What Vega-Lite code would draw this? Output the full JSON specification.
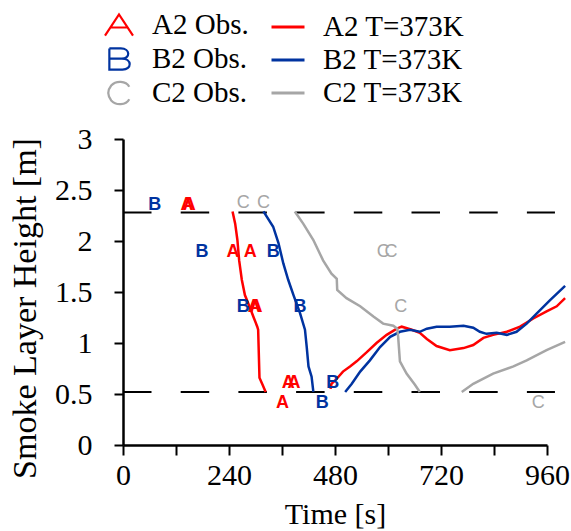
{
  "$schema": "https://vega.github.io/schema/vega-lite/v6.json",
  "width": 424,
  "height": 306,
  "autosize": {"type": "none"},
  "padding": {"left": 123, "top": 139, "right": 24, "bottom": 86},
  "background": "white",
  "config": {
    "view": {"stroke": null},
    "axis": {
      "grid": false,
      "domainColor": "black",
      "domainWidth": 2.5,
      "tickColor": "black",
      "tickWidth": 2,
      "labelColor": "black",
      "labelFont": "Liberation Serif",
      "labelFontSize": 30,
      "titleFont": "Liberation Serif",
      "titleFontWeight": "normal",
      "titleColor": "black",
      "labelFlush": false,
      "labelOverlap": false
    }
  },
  "datasets": {
    "obs": [
      {"series": "A2", "t": 145, "h": 2.35},
      {"series": "A2", "t": 150, "h": 2.35},
      {"series": "A2", "t": 249, "h": 1.89},
      {"series": "A2", "t": 288, "h": 1.89},
      {"series": "A2", "t": 297, "h": 1.35},
      {"series": "A2", "t": 301, "h": 1.35},
      {"series": "A2", "t": 374, "h": 0.61},
      {"series": "A2", "t": 387, "h": 0.61},
      {"series": "A2", "t": 361, "h": 0.41},
      {"series": "B2", "t": 72, "h": 2.35},
      {"series": "B2", "t": 179, "h": 1.89},
      {"series": "B2", "t": 340, "h": 1.89},
      {"series": "B2", "t": 272, "h": 1.35},
      {"series": "B2", "t": 401, "h": 1.35},
      {"series": "B2", "t": 475, "h": 0.61},
      {"series": "B2", "t": 451, "h": 0.41},
      {"series": "C2", "t": 272, "h": 2.37},
      {"series": "C2", "t": 318, "h": 2.37},
      {"series": "C2", "t": 589, "h": 1.89},
      {"series": "C2", "t": 607, "h": 1.89},
      {"series": "C2", "t": 629, "h": 1.35},
      {"series": "C2", "t": 940, "h": 0.41}
    ],
    "sim": [
      {"series": "A2", "seg": 1, "t": 248, "h": 2.29},
      {"series": "A2", "seg": 1, "t": 254, "h": 2.17},
      {"series": "A2", "seg": 1, "t": 259, "h": 2.01},
      {"series": "A2", "seg": 1, "t": 263, "h": 1.81},
      {"series": "A2", "seg": 1, "t": 269, "h": 1.62},
      {"series": "A2", "seg": 1, "t": 276, "h": 1.47},
      {"series": "A2", "seg": 1, "t": 288, "h": 1.34},
      {"series": "A2", "seg": 1, "t": 295, "h": 1.26},
      {"series": "A2", "seg": 1, "t": 304, "h": 1.16},
      {"series": "A2", "seg": 1, "t": 306, "h": 1.13},
      {"series": "A2", "seg": 1, "t": 309, "h": 0.66},
      {"series": "A2", "seg": 1, "t": 316, "h": 0.59},
      {"series": "A2", "seg": 1, "t": 323, "h": 0.52},
      {"series": "A2", "seg": 2, "t": 470, "h": 0.55},
      {"series": "A2", "seg": 2, "t": 472, "h": 0.60},
      {"series": "A2", "seg": 2, "t": 484, "h": 0.65},
      {"series": "A2", "seg": 2, "t": 498, "h": 0.72},
      {"series": "A2", "seg": 2, "t": 514, "h": 0.77},
      {"series": "A2", "seg": 2, "t": 529, "h": 0.82},
      {"series": "A2", "seg": 2, "t": 552, "h": 0.91},
      {"series": "A2", "seg": 2, "t": 574, "h": 1.00},
      {"series": "A2", "seg": 2, "t": 597, "h": 1.08},
      {"series": "A2", "seg": 2, "t": 620, "h": 1.14},
      {"series": "A2", "seg": 2, "t": 631, "h": 1.16},
      {"series": "A2", "seg": 2, "t": 654, "h": 1.13},
      {"series": "A2", "seg": 2, "t": 672, "h": 1.10},
      {"series": "A2", "seg": 2, "t": 688, "h": 1.04},
      {"series": "A2", "seg": 2, "t": 710, "h": 0.97},
      {"series": "A2", "seg": 2, "t": 740, "h": 0.93},
      {"series": "A2", "seg": 2, "t": 771, "h": 0.95},
      {"series": "A2", "seg": 2, "t": 793, "h": 0.98},
      {"series": "A2", "seg": 2, "t": 816, "h": 1.05},
      {"series": "A2", "seg": 2, "t": 838, "h": 1.08},
      {"series": "A2", "seg": 2, "t": 869, "h": 1.11},
      {"series": "A2", "seg": 2, "t": 899, "h": 1.16},
      {"series": "A2", "seg": 2, "t": 929, "h": 1.24},
      {"series": "A2", "seg": 2, "t": 959, "h": 1.31},
      {"series": "A2", "seg": 2, "t": 982, "h": 1.36},
      {"series": "A2", "seg": 2, "t": 1001, "h": 1.44},
      {"series": "B2", "seg": 1, "t": 318, "h": 2.29},
      {"series": "B2", "seg": 1, "t": 340, "h": 2.14},
      {"series": "B2", "seg": 1, "t": 352, "h": 1.98},
      {"series": "B2", "seg": 1, "t": 363, "h": 1.78},
      {"series": "B2", "seg": 1, "t": 374, "h": 1.62},
      {"series": "B2", "seg": 1, "t": 386, "h": 1.47},
      {"series": "B2", "seg": 1, "t": 401, "h": 1.29},
      {"series": "B2", "seg": 1, "t": 412, "h": 1.13},
      {"series": "B2", "seg": 1, "t": 416, "h": 0.96},
      {"series": "B2", "seg": 1, "t": 420, "h": 0.77},
      {"series": "B2", "seg": 1, "t": 427, "h": 0.67},
      {"series": "B2", "seg": 1, "t": 431, "h": 0.52},
      {"series": "B2", "seg": 2, "t": 503, "h": 0.52},
      {"series": "B2", "seg": 2, "t": 518, "h": 0.60},
      {"series": "B2", "seg": 2, "t": 537, "h": 0.72},
      {"series": "B2", "seg": 2, "t": 559, "h": 0.83},
      {"series": "B2", "seg": 2, "t": 582, "h": 0.96},
      {"series": "B2", "seg": 2, "t": 605, "h": 1.06},
      {"series": "B2", "seg": 2, "t": 627, "h": 1.11},
      {"series": "B2", "seg": 2, "t": 650, "h": 1.13},
      {"series": "B2", "seg": 2, "t": 672, "h": 1.11},
      {"series": "B2", "seg": 2, "t": 688, "h": 1.14},
      {"series": "B2", "seg": 2, "t": 710, "h": 1.16},
      {"series": "B2", "seg": 2, "t": 740, "h": 1.16},
      {"series": "B2", "seg": 2, "t": 771, "h": 1.17},
      {"series": "B2", "seg": 2, "t": 793, "h": 1.15},
      {"series": "B2", "seg": 2, "t": 808, "h": 1.11},
      {"series": "B2", "seg": 2, "t": 823, "h": 1.09},
      {"series": "B2", "seg": 2, "t": 846, "h": 1.10},
      {"series": "B2", "seg": 2, "t": 869, "h": 1.08},
      {"series": "B2", "seg": 2, "t": 891, "h": 1.11},
      {"series": "B2", "seg": 2, "t": 914, "h": 1.19},
      {"series": "B2", "seg": 2, "t": 937, "h": 1.29},
      {"series": "B2", "seg": 2, "t": 967, "h": 1.42},
      {"series": "B2", "seg": 2, "t": 1001, "h": 1.56},
      {"series": "C2", "seg": 1, "t": 389, "h": 2.29},
      {"series": "C2", "seg": 1, "t": 408, "h": 2.17},
      {"series": "C2", "seg": 1, "t": 431, "h": 2.01},
      {"series": "C2", "seg": 1, "t": 453, "h": 1.81},
      {"series": "C2", "seg": 1, "t": 472, "h": 1.68},
      {"series": "C2", "seg": 1, "t": 484, "h": 1.63},
      {"series": "C2", "seg": 1, "t": 485, "h": 1.52},
      {"series": "C2", "seg": 1, "t": 506, "h": 1.44},
      {"series": "C2", "seg": 1, "t": 537, "h": 1.36},
      {"series": "C2", "seg": 1, "t": 567, "h": 1.26},
      {"series": "C2", "seg": 1, "t": 589, "h": 1.19},
      {"series": "C2", "seg": 1, "t": 612, "h": 1.17},
      {"series": "C2", "seg": 1, "t": 621, "h": 1.14},
      {"series": "C2", "seg": 1, "t": 623, "h": 1.06},
      {"series": "C2", "seg": 1, "t": 627, "h": 0.82},
      {"series": "C2", "seg": 1, "t": 642, "h": 0.70},
      {"series": "C2", "seg": 1, "t": 661, "h": 0.59},
      {"series": "C2", "seg": 1, "t": 672, "h": 0.52},
      {"series": "C2", "seg": 2, "t": 767, "h": 0.52},
      {"series": "C2", "seg": 2, "t": 793, "h": 0.60},
      {"series": "C2", "seg": 2, "t": 838, "h": 0.70},
      {"series": "C2", "seg": 2, "t": 884, "h": 0.77},
      {"series": "C2", "seg": 2, "t": 914, "h": 0.83},
      {"series": "C2", "seg": 2, "t": 959, "h": 0.93},
      {"series": "C2", "seg": 2, "t": 1001, "h": 1.01}
    ],
    "levels": [
      {"h": 2.28, "t0": 0, "t1": 978},
      {"h": 0.52, "t0": 0, "t1": 978}
    ]
  },
  "layer": [
    {
      "data": {"name": "levels"},
      "mark": {"type": "rule", "color": "black", "strokeWidth": 2, "strokeDash": [28.5, 29.2]},
      "encoding": {
        "x": {"field": "t0", "type": "quantitative"},
        "x2": {"field": "t1"},
        "y": {"field": "h", "type": "quantitative"}
      }
    },
    {
      "data": {"name": "sim"},
      "transform": [{"calculate": "datum.series + ' T=373K'", "as": "simLabel"}],
      "mark": {"type": "line", "strokeWidth": 2.5},
      "encoding": {
        "x": {"field": "t", "type": "quantitative"},
        "y": {"field": "h", "type": "quantitative"},
        "detail": {"field": "seg", "type": "nominal"},
        "stroke": {
          "field": "simLabel",
          "type": "nominal",
          "scale": {"domain": ["A2 T=373K", "B2 T=373K", "C2 T=373K"], "range": ["#ff0000", "#0033a0", "#a6a6a6"]},
          "legend": {
            "orient": "none",
            "legendX": 147,
            "legendY": -130,
            "title": null,
            "padding": 0,
            "labelFont": "Liberation Serif",
            "labelFontSize": 29,
            "labelColor": "black",
            "labelOffset": 17,
            "symbolType": "stroke",
            "symbolSize": 1089,
            "symbolStrokeWidth": 3,
            "rowPadding": 0
          }
        }
      }
    },
    {
      "data": {"name": "obs"},
      "transform": [
        {"filter": "datum.series !== 'C2'"},
        {"calculate": "substring(datum.series, 0, 1)", "as": "letter"},
        {"calculate": "datum.series + ' Obs.'", "as": "obsLabel"}
      ],
      "mark": {"type": "text", "font": "Liberation Sans", "fontSize": 18, "fontWeight": "bold", "align": "center", "baseline": "middle"},
      "encoding": {
        "x": {"field": "t", "type": "quantitative"},
        "y": {"field": "h", "type": "quantitative"},
        "text": {"field": "letter"},
        "fill": {
          "field": "obsLabel",
          "type": "nominal",
          "scale": {"domain": ["A2 Obs.", "B2 Obs.", "C2 Obs."], "range": ["#ff0000", "#0033a0", "#a6a6a6"]},
          "legend": {
            "orient": "none",
            "legendX": -21,
            "legendY": -131,
            "title": null,
            "padding": 0,
            "labelFont": "Liberation Serif",
            "labelFontSize": 29,
            "labelColor": "black",
            "labelOffset": 16,
            "symbolSize": 968,
            "symbolStrokeWidth": 2.2,
            "rowPadding": 2,
            "encode": {
              "symbols": {
                "update": {
                  "shape": {"signal": "datum.value === 'A2 Obs.' ? 'M-0.9,0.68L0,-0.68L0.9,0.68M-0.52,0.16L0.52,0.16' : datum.value === 'B2 Obs.' ? 'M-0.62,-0.68L-0.62,0.68L0.22,0.68C0.85,0.68,0.85,-0.02,0.18,-0.02L-0.62,-0.02M0.18,-0.02C0.74,-0.02,0.74,-0.68,0.12,-0.68L-0.62,-0.68' : 'M0.66,-0.4C0.45,-0.8,-0.2,-0.82,-0.5,-0.48C-0.76,-0.15,-0.76,0.15,-0.5,0.48C-0.2,0.82,0.45,0.8,0.66,0.4'"},
                  "fillOpacity": {"value": 0},
                  "size": {"value": 968},
                  "stroke": {"signal": "datum.value === 'A2 Obs.' ? '#ff0000' : datum.value === 'B2 Obs.' ? '#0033a0' : '#a6a6a6'"},
                  "strokeWidth": {"value": 2.2},
                  "strokeOpacity": {"value": 1}
                }
              }
            }
          }
        }
      }
    },
    {
      "data": {"name": "obs"},
      "transform": [
        {"filter": "datum.series === 'C2'"},
        {"calculate": "substring(datum.series, 0, 1)", "as": "letter"},
        {"calculate": "datum.series + ' Obs.'", "as": "obsLabel"}
      ],
      "mark": {"type": "text", "font": "Liberation Sans", "fontSize": 18, "align": "center", "baseline": "middle"},
      "encoding": {
        "x": {"field": "t", "type": "quantitative"},
        "y": {"field": "h", "type": "quantitative"},
        "text": {"field": "letter"},
        "fill": {"field": "obsLabel", "type": "nominal"}
      }
    }
  ],
  "encoding": {
    "x": {
      "type": "quantitative",
      "scale": {"domain": [0, 960], "nice": false, "zero": false},
      "axis": {
        "title": "Time [s]",
        "values": [0, 120, 240, 360, 480, 600, 720, 840, 960],
        "labelExpr": "datum.value % 240 === 0 ? datum.label : ''",
        "tickSize": 10,
        "labelPadding": 5,
        "titleFontSize": 30,
        "titleBaseline": "alphabetic",
        "titleY": 78
      }
    },
    "y": {
      "type": "quantitative",
      "scale": {"domain": [0, 3], "nice": false},
      "axis": {
        "title": "Smoke Layer Height [m]",
        "values": [0, 0.5, 1, 1.5, 2, 2.5, 3],
        "format": "~g",
        "tickSize": 9,
        "labelPadding": 22,
        "titleFontSize": 34,
        "titleBaseline": "alphabetic",
        "titleAngle": -90,
        "titleAlign": "center",
        "titleX": -88,
        "titleY": 169
      }
    }
  }
}
